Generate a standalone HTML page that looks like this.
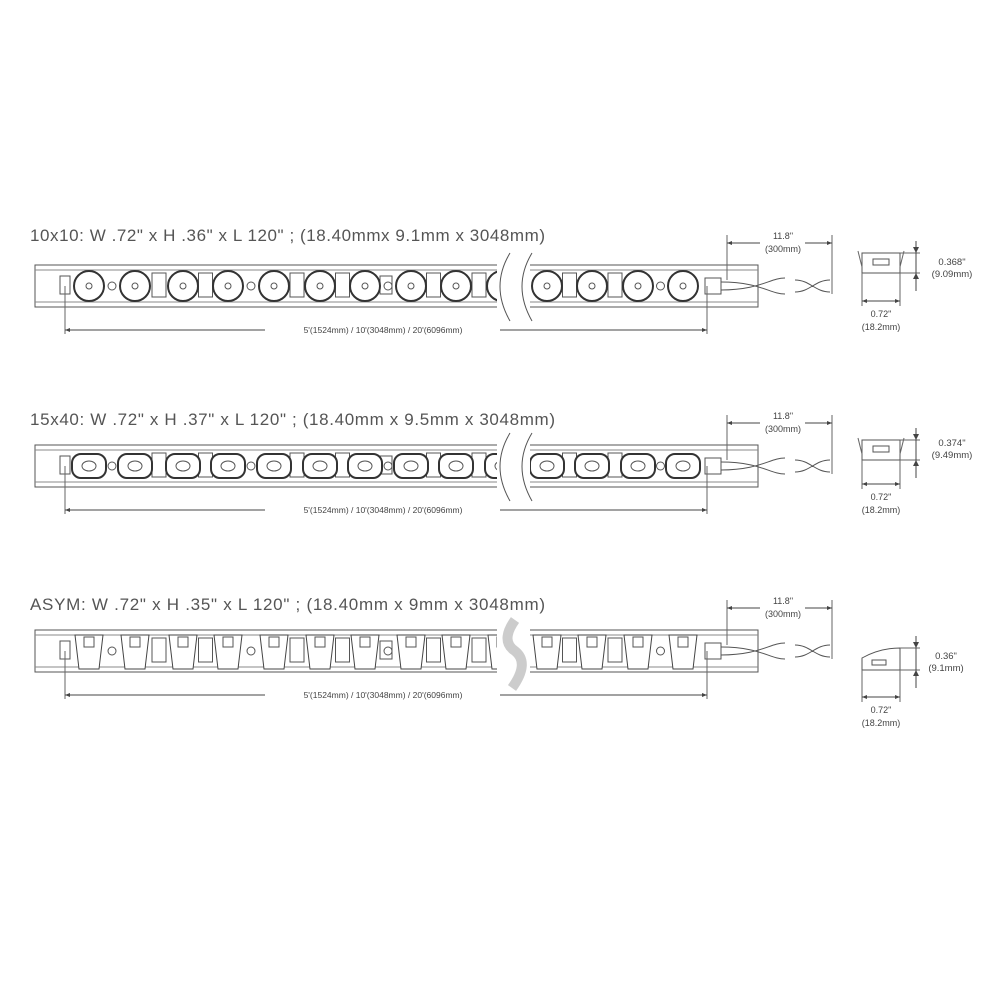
<!DOCTYPE html>
<html><head><meta charset="utf-8"><style>
html,body{margin:0;padding:0;background:#fff;}
svg{display:block;font-family:"Liberation Sans",sans-serif;}
</style></head><body>
<svg id="s" width="986" height="986" viewBox="0 0 986 986" xmlns="http://www.w3.org/2000/svg">
<defs><marker id="a" viewBox="0 0 10 10" refX="10" refY="5" markerWidth="7" markerHeight="5" orient="auto-start-reverse"><path d="M0,1L10,5L0,9z" fill="#444"/></marker></defs>
<g fill="#555" font-size="17">
<text x="30" y="241" textLength="515" lengthAdjust="spacing">10x10: W .72" x H .36" x L 120" ; (18.40mmx 9.1mm x 3048mm)</text>
<text x="30" y="425" textLength="525" lengthAdjust="spacing">15x40: W .72" x H .37" x L 120" ; (18.40mm x 9.5mm x 3048mm)</text>
<text x="30" y="610" textLength="515" lengthAdjust="spacing">ASYM: W .72" x H .35" x L 120" ; (18.40mm x 9mm x 3048mm)</text>
</g>
<g id="g"></g>
</svg>
<script>
var g=document.getElementById('g'),h='';
var S='stroke="#555" fill="none" stroke-width="1"';
var xs=[89,135,183,228,274,320,365,411,456,502,547,592,638,683];
function strip(cy,type,ct,cb,wy){
 var t=cy-21,b=cy+21;
 h+='<rect x="35" y="'+t+'" width="723" height="42" '+S+'/>';
 h+='<line x1="35" y1="'+(t+5)+'" x2="758" y2="'+(t+5)+'" stroke="#888"/><line x1="35" y1="'+(b-5)+'" x2="758" y2="'+(b-5)+'" stroke="#888"/>';
 h+='<rect x="60" y="'+(cy-10)+'" width="10" height="18" '+S+'/>';
 h+='<rect x="380" y="'+(cy-10)+'" width="12" height="18" '+S+'/>';
 for(var i=0;i<xs.length;i++){var x=xs[i];
  if(i<13){var mx=(x+xs[i+1])/2; if(i%3==0) h+='<circle cx="'+mx+'" cy="'+cy+'" r="4" '+S+'/>'; else h+='<rect x="'+(mx-7)+'" y="'+(cy-13)+'" width="14" height="24" '+S+'/>';}
  if(type==0){h+='<circle cx="'+x+'" cy="'+cy+'" r="15" stroke="#333" stroke-width="2" fill="#fff"/><circle cx="'+x+'" cy="'+cy+'" r="3" '+S+'/>';}
  else if(type==1){h+='<rect x="'+(x-17)+'" y="'+(cy-12)+'" width="34" height="24" rx="9" stroke="#333" stroke-width="2" fill="#fff"/><ellipse cx="'+x+'" cy="'+cy+'" rx="7" ry="5" '+S+'/>';}
  else {h+='<path d="M'+(x-14)+','+(cy-16)+'L'+(x+14)+','+(cy-16)+'L'+(x+10)+','+(cy+18)+'L'+(x-10)+','+(cy+18)+'Z" stroke="#444" fill="#fff"/><rect x="'+(x-5)+'" y="'+(cy-14)+'" width="10" height="10" '+S+'/>';}
 }
 h+='<rect x="497" y="'+(t-3)+'" width="33" height="48" fill="#fff"/>';
 if(type<2){h+='<path d="M510,'+(t-12)+'Q490,'+cy+' 510,'+(b+14)+'M532,'+(t-12)+'Q512,'+cy+' 532,'+(b+14)+'" '+S+'/>';}
 else{h+='<path d="M515,'+(t-10)+'Q500,'+(cy-10)+' 515,'+cy+'Q530,'+(cy+12)+' 512,'+(b+16)+'" stroke="#ccc" stroke-width="10" fill="none"/>';}
 h+='<rect x="705" y="'+(cy-8)+'" width="16" height="16" '+S+'/>';
 h+='<path d="M721,'+(cy-4)+'C760,'+(cy-4)+' 770,'+(cy+8)+' 785,'+(cy+8)+'M721,'+(cy+4)+'C760,'+(cy+4)+' 770,'+(cy-8)+' 785,'+(cy-8)+'M795,'+(cy-6)+'C810,'+(cy-6)+' 815,'+(cy+6)+' 830,'+(cy+6)+'M795,'+(cy+6)+'C810,'+(cy+6)+' 815,'+(cy-6)+' 830,'+(cy-6)+'" '+S+'/>';
 var dy=t-22;
 h+='<line x1="727" y1="'+(dy-8)+'" x2="727" y2="'+(cy-6)+'" stroke="#666"/><line x1="832" y1="'+(dy-8)+'" x2="832" y2="'+(cy+8)+'" stroke="#666"/>';
 h+='<line x1="727" y1="'+dy+'" x2="760" y2="'+dy+'" stroke="#444" marker-start="url(#a)"/><line x1="805" y1="'+dy+'" x2="832" y2="'+dy+'" stroke="#444" marker-end="url(#a)"/>';
 h+='<text x="783" y="'+(dy-4)+'" font-size="9" fill="#444" text-anchor="middle">11.8"</text><text x="783" y="'+(dy+9)+'" font-size="9" fill="#444" text-anchor="middle">(300mm)</text>';
 var ly=b+23;
 h+='<line x1="65" y1="'+(cy)+'" x2="65" y2="'+(ly+4)+'" stroke="#666"/><line x1="707" y1="'+(cy)+'" x2="707" y2="'+(ly+4)+'" stroke="#666"/>';
 h+='<line x1="65" y1="'+ly+'" x2="265" y2="'+ly+'" stroke="#444" marker-start="url(#a)"/><line x1="500" y1="'+ly+'" x2="707" y2="'+ly+'" stroke="#444" marker-end="url(#a)"/>';
 h+='<text x="383" y="'+(ly+3)+'" font-size="8.5" fill="#444" text-anchor="middle">5\'(1524mm) / 10\'(3048mm) / 20\'(6096mm)</text>';
 // cross-section
 if(type<2){
  h+='<rect x="862" y="'+ct+'" width="38" height="'+(cb-ct)+'" '+S+'/>';
  h+='<rect x="873" y="'+(ct+6)+'" width="16" height="6" '+S+'/>';
  h+='<line x1="858" y1="'+(ct-2)+'" x2="862" y2="'+(ct+14)+'" stroke="#666"/><line x1="904" y1="'+(ct-2)+'" x2="900" y2="'+(ct+14)+'" stroke="#666"/>';
 } else {
  h+='<path d="M862,'+cb+'L862,'+(ct+10)+'Q880,'+(ct)+' 900,'+(ct)+'L900,'+cb+'Z" '+S+'/>';
  h+='<rect x="872" y="'+(ct+12)+'" width="14" height="5" '+S+'/>';
 }
 h+='<line x1="862" y1="'+cb+'" x2="862" y2="'+(wy+5)+'" stroke="#666"/><line x1="900" y1="'+cb+'" x2="900" y2="'+(wy+5)+'" stroke="#666"/>';
 h+='<line x1="862" y1="'+wy+'" x2="900" y2="'+wy+'" stroke="#444" marker-start="url(#a)" marker-end="url(#a)"/>';
 h+='<text x="881" y="'+(wy+16)+'" font-size="9" fill="#444" text-anchor="middle">0.72"</text><text x="881" y="'+(wy+29)+'" font-size="9" fill="#444" text-anchor="middle">(18.2mm)</text>';
 h+='<line x1="900" y1="'+ct+'" x2="920" y2="'+ct+'" stroke="#666"/><line x1="900" y1="'+cb+'" x2="920" y2="'+cb+'" stroke="#666"/>';
 h+='<line x1="916" y1="'+(ct-12)+'" x2="916" y2="'+(cb+18)+'" stroke="#444"/>';
 h+='<path d="M913,'+(ct-6)+'L916,'+ct+'L919,'+(ct-6)+'zM913,'+(cb+6)+'L916,'+cb+'L919,'+(cb+6)+'z" fill="#444"/>';
}
strip(286,0,253,273,301);strip(466,1,440,460,484);strip(651,2,648,670,697);
h+='<text x="952" y="265" font-size="9.5" fill="#444" text-anchor="middle">0.368"</text><text x="952" y="277" font-size="9.5" fill="#444" text-anchor="middle">(9.09mm)</text>';
h+='<text x="952" y="446" font-size="9.5" fill="#444" text-anchor="middle">0.374"</text><text x="952" y="458" font-size="9.5" fill="#444" text-anchor="middle">(9.49mm)</text>';
h+='<text x="946" y="659" font-size="9.5" fill="#444" text-anchor="middle">0.36"</text><text x="946" y="671" font-size="9.5" fill="#444" text-anchor="middle">(9.1mm)</text>';
g.innerHTML=h;
</script>
</body></html>
